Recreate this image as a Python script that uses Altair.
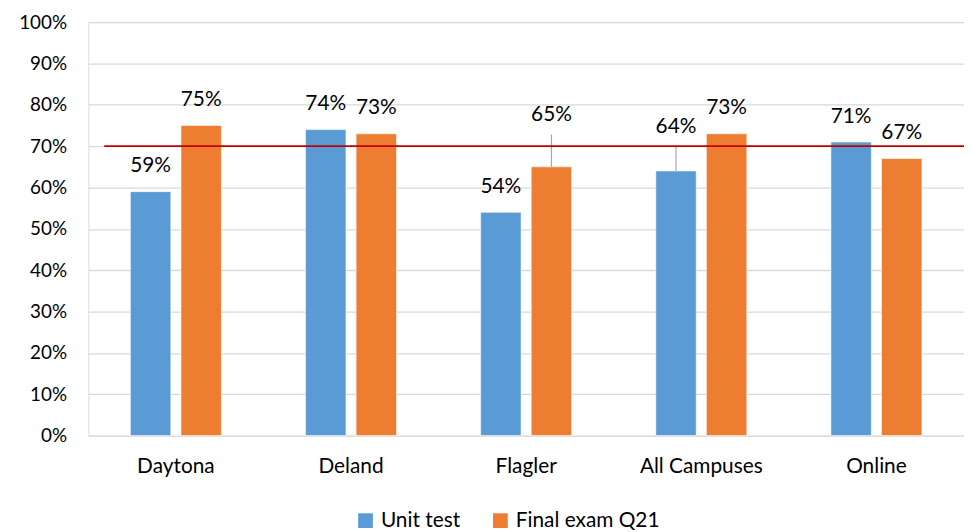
import altair as alt
import pandas as pd

categories = ["Daytona", "Deland", "Flagler", "All Campuses", "Online"]
series = ["Unit test", "Final exam Q21"]
unit_test = [0.59, 0.74, 0.54, 0.64, 0.71]
final_exam = [0.75, 0.73, 0.65, 0.73, 0.67]
target = 0.70

# extra lift (in axis units) for labels that sit on a leader line
label_lift = {("Flagler", "Final exam Q21"): 0.065, ("All Campuses", "Unit test"): 0.046}

rows = []
for i, c in enumerate(categories):
    for s, vals in zip(series, [unit_test, final_exam]):
        v = vals[i]
        lift = label_lift.get((c, s), 0.0)
        rows.append({
            "cat": c, "series": s, "value": v,
            "label_y": v + 0.061 + lift,
            "leader": lift > 0,
            "leader_top": v + 0.061 + lift - 0.048,
        })
df = pd.DataFrame(rows)

FONT = "Lato"
colors = ["#5B9BD5", "#ED7D31"]

x = alt.X("cat:N", sort=categories, title=None,
          scale=alt.Scale(paddingInner=0.48, paddingOuter=0.24),
          axis=alt.Axis(labelFont=FONT, labelFontSize=21, labelColor="#000000",
                        labelPadding=20, ticks=False, domain=False, labelAngle=0))
xo = alt.XOffset("series:N", sort=series,
                 scale=alt.Scale(paddingInner=0.2, paddingOuter=0))
yscale = alt.Scale(domain=[0, 1])

base = alt.Chart(df)

bars = base.mark_bar(stroke="white", strokeWidth=0.6).encode(
    x=x, xOffset=xo,
    y=alt.Y("value:Q", scale=yscale, title=None,
            axis=alt.Axis(format=".0%", values=[i / 10 for i in range(11)],
                          labelFont=FONT, labelFontSize=19, labelColor="#000000",
                          labelPadding=22, ticks=False, domain=False,
                          gridColor="#D9D9D9", gridWidth=1.3)),
    color=alt.Color("series:N", sort=series,
                    scale=alt.Scale(domain=series, range=colors),
                    legend=alt.Legend(title=None, orient="none", direction="horizontal",
                                      legendX=269, legendY=492, symbolType="square",
                                      symbolSize=220, symbolStrokeWidth=0,
                                      labelFont=FONT, labelFontSize=21, labelColor="#000000",
                                      columnPadding=30, labelOffset=5)),
)

leaders = base.transform_filter("datum.leader").mark_rule(color="#A6A6A6", strokeWidth=1.2).encode(
    x=x, xOffset=xo,
    y=alt.Y("value:Q", scale=yscale),
    y2="leader_top:Q",
)

labels = base.mark_text(font=FONT, fontSize=21, color="#000000", baseline="middle").encode(
    x=x, xOffset=xo,
    y=alt.Y("label_y:Q", scale=yscale),
    text=alt.Text("value:Q", format=".0%"),
)

redline = alt.Chart(pd.DataFrame({"t": [target]})).mark_rule(color="#C00000", strokeWidth=1.6).encode(
    y=alt.Y("t:Q", scale=yscale),
    x=alt.value(16), x2=alt.value(883),
)

chart = alt.layer(bars, leaders, redline, labels).properties(
    width=883, height=417,
    autosize=alt.AutoSizeParams(type="none"),
    padding={"left": 81, "top": 12, "right": 0, "bottom": 95},
).configure_view(stroke=None).configure(background="white")

chart.save("out.html", embed_options={"renderer": "svg", "actions": False})
